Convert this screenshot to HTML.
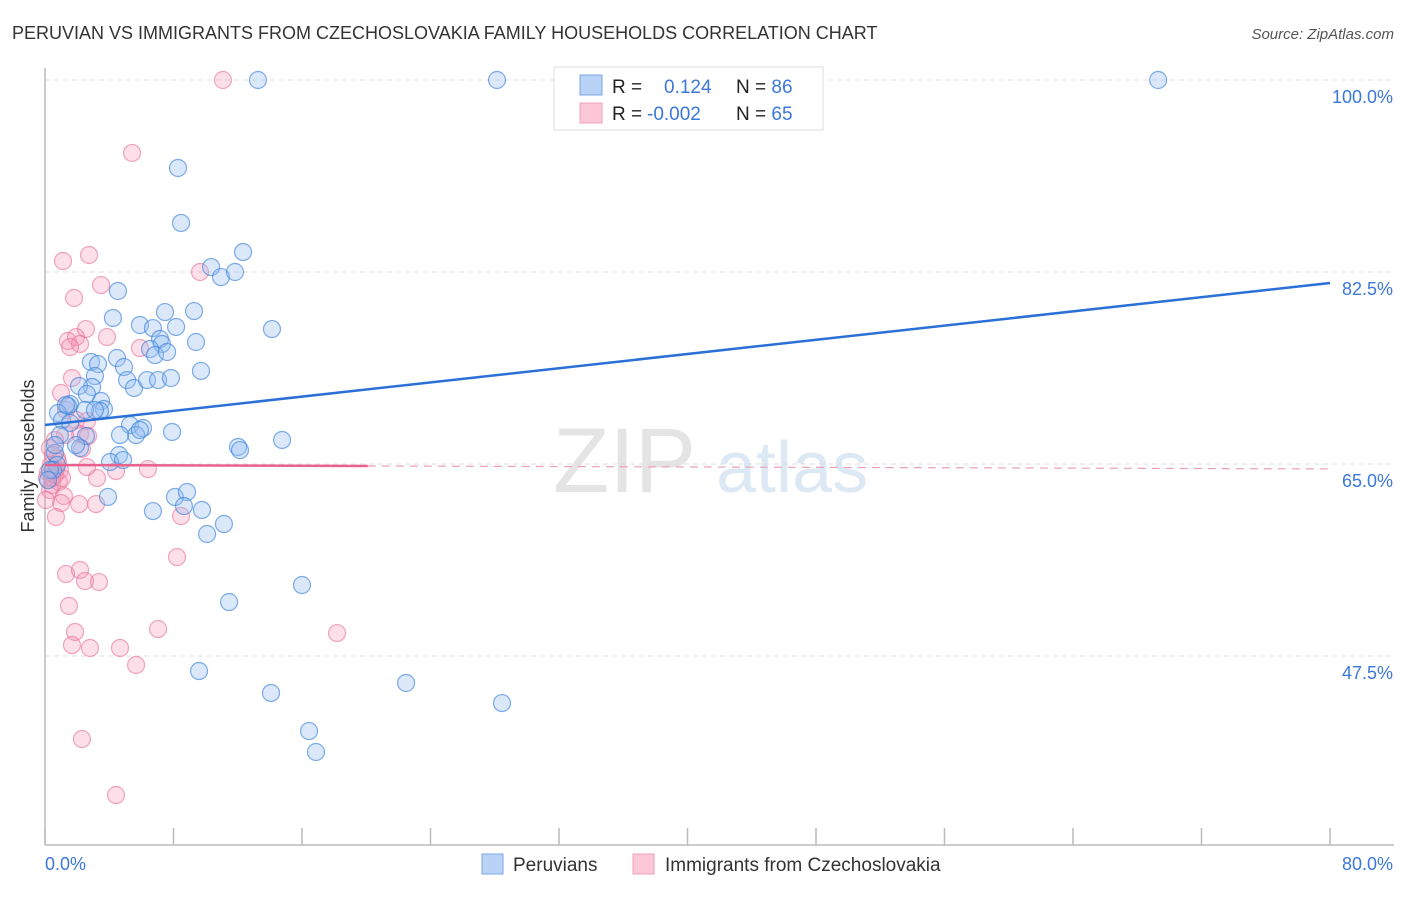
<!DOCTYPE html>
<html><head><meta charset="utf-8"><style>
body{margin:0;background:#fff;font-family:"Liberation Sans",sans-serif;}
svg text{font-family:"Liberation Sans",sans-serif;}
</style></head><body>
<svg id="chart" width="1406" height="892" xmlns="http://www.w3.org/2000/svg">
<text x="12" y="39" font-size="18" fill="#333">PERUVIAN VS IMMIGRANTS FROM CZECHOSLOVAKIA FAMILY HOUSEHOLDS CORRELATION CHART</text>
<text x="1394" y="39" font-size="15" fill="#555" font-style="italic" text-anchor="end">Source: ZipAtlas.com</text>
<g><text x="553" y="492" font-size="92" fill="#e4e4e4" font-family="Liberation Serif">ZIP</text><text x="716" y="492" font-size="72" fill="#dde8f5">atlas</text></g>
<g id="grid"></g>
<line x1="45" y1="68" x2="45" y2="845" stroke="#bbb" stroke-width="1.5"/>
<line x1="45" y1="845" x2="1394" y2="845" stroke="#bbb" stroke-width="1.5"/>
<g id="xticks"></g>
<g id="ylabels"></g>
<text x="45" y="870" font-size="18" fill="#3b78d8">0.0%</text>
<text x="1393" y="870" font-size="18" fill="#3b78d8" text-anchor="end">80.0%</text>
<text transform="translate(34,456) rotate(-90)" font-size="18" fill="#333" text-anchor="middle">Family Households</text>
<g id="pts"></g>
<g id="trends"></g>
<g>
<rect x="554" y="67" width="269" height="63" fill="#fff" stroke="#ddd"/>
<rect x="580" y="75" width="22" height="20" fill="#b8d3f5" stroke="#7aa7e6"/>
<rect x="580" y="103" width="22" height="20" fill="#fcc8d8" stroke="#f0a0b8"/>
<text x="612" y="93" font-size="19" fill="#222">R = <tspan x="664" fill="#3b78d8">0.124</tspan></text>
<text x="736" y="93" font-size="19" fill="#222">N = <tspan fill="#3b78d8">86</tspan></text>
<text x="612" y="120" font-size="19" fill="#222">R = <tspan x="647" fill="#3b78d8">-0.002</tspan></text>
<text x="736" y="120" font-size="19" fill="#222">N = <tspan fill="#3b78d8">65</tspan></text>
</g>
<g>
<rect x="482" y="854" width="21" height="20" fill="#b8d3f5" stroke="#7aa7e6"/>
<text x="513" y="871" font-size="19" fill="#333">Peruvians</text>
<rect x="633" y="854" width="21" height="20" fill="#fcc8d8" stroke="#f0a0b8"/>
<text x="665" y="871" font-size="19" fill="#333">Immigrants from Czechoslovakia</text>
</g>
</svg>
<script>
const yTicks=[100,82.5,65,47.5];
const yTickLabels=["100.0%","82.5%","65.0%","47.5%"];
const xTicks=[0,8,16,24,32,40,48,56,64,72,80];
const blueX=[13.26,28.14,69.30,8.28,8.47,12.33,10.34,10.96,11.83,4.54,7.47,9.28,4.23,5.91,6.72,8.16,7.16,7.28,9.40,14.13,4.48,2.86,3.30,6.54,6.85,7.60,4.92,3.11,9.71,2.93,2.12,5.11,5.54,6.35,7.04,7.84,3.49,2.61,1.56,3.67,1.43,0.81,1.06,3.42,5.29,6.10,5.67,7.91,12.02,12.14,14.76,1.56,0.93,2.55,2.18,0.62,0.75,0.50,4.61,4.05,4.86,8.09,8.84,8.65,9.77,6.72,11.14,10.09,3.92,11.46,16.00,9.59,14.07,16.44,16.87,22.48,28.45,0.31,0.19,0.62,1.31,1.93,2.49,3.11,4.67,5.91];
const blueY=[100,100,100,91.98,86.97,84.32,82.95,82.04,82.50,80.77,78.85,78.94,78.31,77.67,77.39,77.49,76.39,75.94,76.12,77.30,74.66,74.30,74.11,75.48,74.93,75.21,73.84,73.02,73.48,72.02,72.11,72.65,71.93,72.65,72.65,72.84,70.74,71.38,70.47,70.01,70.29,69.65,69.01,69.83,68.55,68.28,67.64,67.92,66.55,66.27,67.19,68.74,67.64,67.55,66.46,66.00,64.91,64.45,65.82,65.18,65.36,61.99,62.45,61.17,60.81,60.71,59.53,58.62,62.0,52.42,53.97,46.13,44.13,40.66,38.75,45.04,43.21,64.45,63.54,66.73,70.38,66.73,69.92,69.92,67.64,68.10];
const pinkX=[11.08,5.42,2.74,1.12,3.49,1.81,9.65,2.55,1.43,1.93,2.18,1.56,5.91,3.86,1.68,1.00,1.31,2.61,1.93,2.18,2.68,1.25,0.62,0.31,0.75,2.30,0.37,0.68,0.62,0.12,0.44,0.87,0.31,2.61,3.24,4.42,6.41,8.47,1.18,1.00,2.12,3.18,0.68,8.22,1.31,2.18,2.49,3.36,1.49,1.87,1.68,2.80,4.67,7.04,5.67,18.18,2.30,4.42,0.93,0.19,0.50,0.06,0.81,0.44,1.06];
const pinkY=[100,93.35,84.05,83.50,81.31,80.13,82.50,77.30,76.21,76.57,75.94,75.66,75.57,76.57,72.84,71.47,69.92,68.92,69.01,67.73,67.55,67.64,67.19,66.46,65.55,66.37,64.91,64.45,64.00,63.72,63.08,63.36,62.63,64.72,63.72,64.36,64.54,60.26,62.08,61.44,61.35,61.35,60.17,56.52,54.97,55.34,54.33,54.24,52.06,49.69,48.50,48.23,48.23,49.96,46.68,49.59,39.93,34.83,64.45,64.27,65.82,61.72,65.18,63.72,63.72];
const blueTrend=[68.55,81.50];
const pinkTrend=[64.91,64.55];
const pinkSolidEnd=20.1;
const NS="http://www.w3.org/2000/svg";
const X=v=>45+v/80*1285;
const Y=v=>80+(100-v)/17.5*192;
function mk(tag,parent,attrs){const e=document.createElementNS(NS,tag);for(const k in attrs)e.setAttribute(k,attrs[k]);document.getElementById(parent).appendChild(e);return e;}
yTicks.forEach((t,i)=>{
 const g=mk('line','grid',{x1:45,x2:1394,y1:Y(t),y2:Y(t),stroke:'#ddd','stroke-dasharray':'5,4'});
 
 
 const l=mk('text','ylabels',{x:1393,y:Y(t)+23,'font-size':18,fill:'#3b78d8','text-anchor':'end'});
 l.textContent=yTickLabels[i];
 
 
});
xTicks.forEach(t=>{
 const e=mk('line','xticks',{x1:X(t),x2:X(t),y1:828,y2:845,stroke:'#bbb','stroke-width':1.5});
 
 
});
pinkX.forEach((v,i)=>{
 const c=mk('circle','pts',{cx:X(v),cy:Y(pinkY[i]),r:8.5,fill:'rgba(246,150,180,0.3)',stroke:'rgba(232,110,150,0.6)','stroke-width':1.2});
 
 
});
blueX.forEach((v,i)=>{
 const c=mk('circle','pts',{cx:X(v),cy:Y(blueY[i]),r:8.5,fill:'rgba(150,190,240,0.35)',stroke:'rgba(60,130,220,0.65)','stroke-width':1.2});
 
 
});
const bl=mk('line','trends',{x1:X(0),y1:Y(blueTrend[0]),x2:X(80),y2:Y(blueTrend[1]),stroke:'#2a70d6','stroke-width':2.5});


const pm=pinkTrend[0]+(pinkTrend[1]-pinkTrend[0])*pinkSolidEnd/80;
const ps=mk('line','trends',{x1:X(0),y1:Y(pinkTrend[0]),x2:X(pinkSolidEnd),y2:Y(pm),stroke:'#e8628e','stroke-width':2.5});


const pd=mk('line','trends',{x1:X(pinkSolidEnd),y1:Y(pm),x2:X(80),y2:Y(pinkTrend[1]),stroke:'#eaa0b8','stroke-width':1.2,'stroke-dasharray':'8,6'});


</script>
</body></html>
